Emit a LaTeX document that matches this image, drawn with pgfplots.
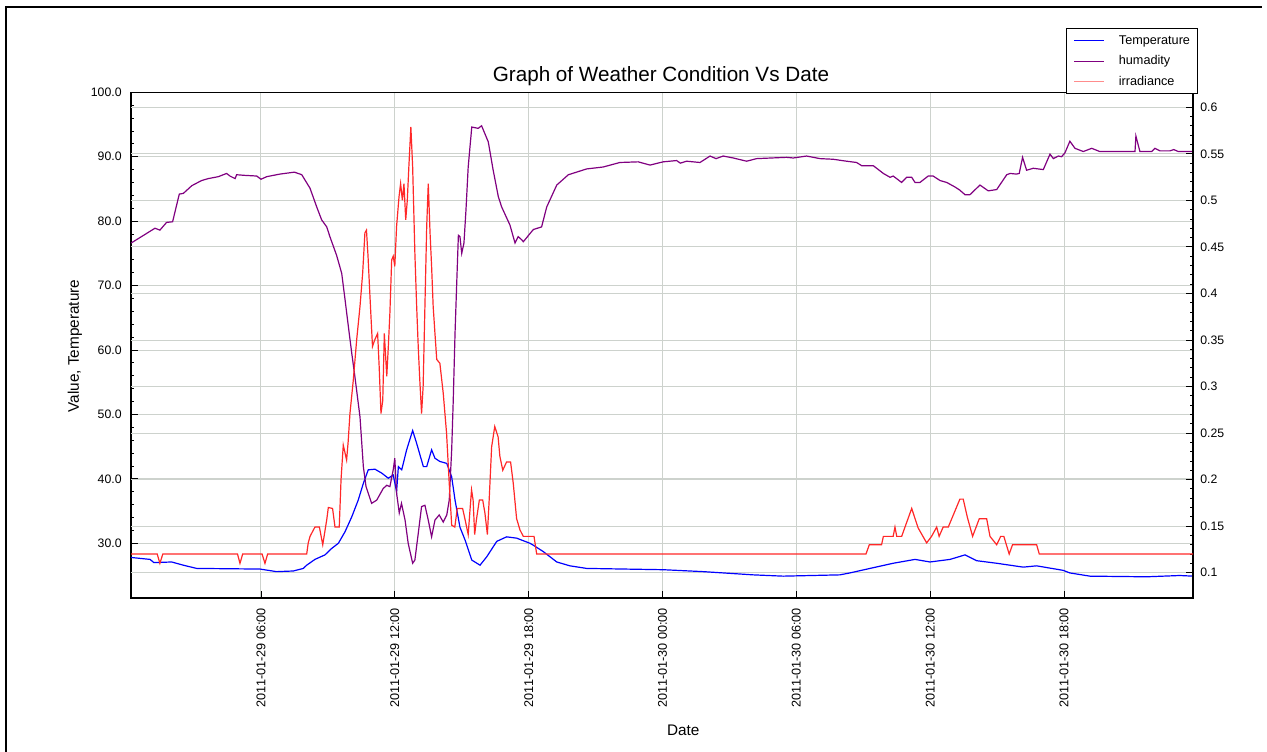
\documentclass[border=0pt]{standalone}
\usepackage{pgfplots}
\pgfplotsset{compat=1.18}
\usepackage{fontspec}
\setmainfont{Liberation Sans}
\definecolor{tempc}{RGB}{0,0,255}
\definecolor{humc}{RGB}{128,0,128}
\definecolor{irrc}{RGB}{255,40,40}
\definecolor{irrleg}{RGB}{255,140,140}
\definecolor{gridc}{RGB}{205,210,205}

\pgfplotstableread{
h v
0.18 27.8
1.03 27.5
1.2 27.0
2.0 27.1
2.52 26.6
3.12 26.1
5.96 26.0
6.7 25.6
7.45 25.7
7.9 26.1
8.05 26.6
8.42 27.5
8.87 28.2
9.17 29.2
9.47 30.0
9.77 31.8
10.07 34.1
10.36 36.7
10.59 39.3
10.81 41.4
11.11 41.5
11.41 40.9
11.71 40.1
11.93 40.6
12.08 38.0
12.16 41.9
12.31 41.4
12.53 44.5
12.8 47.5
12.98 45.5
13.28 41.9
13.43 41.9
13.65 44.5
13.8 43.2
14.02 42.7
14.33 42.4
14.55 40.3
14.7 36.7
14.92 32.5
15.15 30.5
15.45 27.4
15.82 26.6
16.12 27.9
16.57 30.3
17.01 31.0
17.46 30.8
17.61 30.6
18.06 30.0
18.21 29.7
18.66 28.7
19.26 27.1
19.85 26.5
20.6 26.1
24.03 25.9
25.83 25.6
28.07 25.1
29.41 24.9
31.95 25.1
32.4 25.4
33.3 26.1
34.34 26.9
35.32 27.5
35.99 27.1
36.89 27.5
37.56 28.2
38.08 27.3
38.98 26.9
40.17 26.3
40.77 26.5
41.96 25.8
42.26 25.4
43.16 24.9
45.7 24.8
47.19 25.0
47.78 24.9
}\temptable

\pgfplotstableread{
h v
0.18 76.6
0.88 78.1
1.25 78.9
1.47 78.6
1.77 79.8
2.04 79.9
2.34 84.2
2.52 84.3
2.9 85.5
3.34 86.3
3.64 86.6
4.09 86.9
4.46 87.4
4.61 87.0
4.84 86.6
4.91 87.2
5.28 87.1
5.81 87.0
6.0 86.5
6.26 86.9
6.85 87.3
7.5 87.6
7.83 87.2
8.2 85.1
8.5 82.2
8.72 80.2
8.95 79.1
9.09 77.6
9.39 74.7
9.62 71.9
9.77 67.8
9.92 63.6
10.07 59.5
10.21 55.9
10.44 49.6
10.59 41.9
10.71 38.8
10.96 36.2
11.19 36.7
11.48 38.5
11.64 39.0
11.78 38.8
11.93 41.4
12.0 43.2
12.08 37.8
12.2 34.7
12.3 36.2
12.46 33.6
12.6 30.0
12.8 26.9
12.9 27.4
13.05 31.5
13.2 35.7
13.35 35.9
13.5 33.6
13.65 31.0
13.8 33.6
13.99 34.4
14.17 33.3
14.33 34.4
14.44 36.7
14.55 44.5
14.62 52.2
14.7 62.6
14.77 69.8
14.85 77.8
14.92 77.6
15.0 75.0
15.1 76.6
15.19 81.7
15.29 88.4
15.45 94.6
15.74 94.4
15.89 94.8
16.19 92.3
16.41 87.9
16.64 83.8
16.79 82.2
17.16 79.4
17.39 76.6
17.53 77.6
17.69 77.1
17.76 76.8
18.21 78.7
18.58 79.1
18.81 82.2
19.26 85.6
19.78 87.2
20.6 88.1
21.34 88.4
22.09 89.1
22.91 89.2
23.44 88.7
24.03 89.2
24.63 89.4
24.8 89.0
25.08 89.3
25.68 89.1
26.13 90.1
26.4 89.7
26.72 90.1
27.17 89.8
27.77 89.3
28.22 89.7
29.56 89.9
29.86 89.8
30.46 90.1
31.06 89.7
31.65 89.6
32.25 89.3
32.7 89.1
32.93 88.6
33.45 88.6
33.9 87.4
34.2 86.8
34.34 87.0
34.72 86.0
34.94 86.8
35.17 86.8
35.32 86.0
35.54 86.0
35.91 87.0
36.13 87.0
36.44 86.3
36.74 86.0
37.11 85.3
37.33 84.8
37.56 84.1
37.78 84.1
38.23 85.6
38.6 84.7
38.98 84.9
39.43 87.2
39.58 87.4
39.87 87.3
39.99 87.4
40.14 89.9
40.32 87.9
40.62 88.2
41.07 88.0
41.37 90.4
41.52 89.7
41.74 90.1
41.89 90.0
42.04 90.6
42.26 92.4
42.49 91.3
42.86 90.8
43.24 91.3
43.6 90.8
45.18 90.8
45.22 93.2
45.4 90.8
45.93 90.8
46.07 91.3
46.3 90.9
46.74 90.9
46.92 91.1
47.12 90.8
47.78 90.8
}\humtable

\pgfplotstableread{
h r
0.18 0.12
1.35 0.12
1.47 0.11
1.6 0.12
4.95 0.12
5.06 0.11
5.18 0.12
6.05 0.12
6.18 0.11
6.3 0.12
8.05 0.12
8.12 0.132
8.2 0.139
8.42 0.149
8.62 0.149
8.77 0.13
8.95 0.157
9.02 0.170
9.21 0.169
9.32 0.149
9.51 0.149
9.59 0.2
9.69 0.237
9.84 0.221
9.91 0.241
9.99 0.271
10.14 0.307
10.29 0.35
10.44 0.386
10.56 0.422
10.66 0.465
10.73 0.468
10.8 0.44
10.88 0.4
11.0 0.343
11.1 0.35
11.23 0.357
11.3 0.321
11.38 0.271
11.46 0.285
11.53 0.357
11.64 0.311
11.71 0.343
11.78 0.379
11.86 0.436
11.93 0.44
12.0 0.429
12.08 0.472
12.19 0.504
12.26 0.518
12.34 0.5
12.41 0.518
12.49 0.479
12.56 0.5
12.63 0.536
12.72 0.579
12.8 0.536
12.9 0.443
12.98 0.386
13.05 0.343
13.12 0.307
13.2 0.271
13.27 0.3
13.35 0.386
13.43 0.472
13.5 0.518
13.58 0.465
13.65 0.429
13.72 0.386
13.8 0.357
13.88 0.329
14.02 0.325
14.17 0.293
14.32 0.25
14.44 0.196
14.55 0.151
14.69 0.149
14.8 0.169
15.04 0.169
15.15 0.157
15.29 0.141
15.37 0.167
15.44 0.189
15.51 0.178
15.58 0.141
15.66 0.157
15.79 0.178
15.94 0.178
16.04 0.164
16.15 0.141
16.23 0.178
16.34 0.235
16.48 0.257
16.63 0.246
16.71 0.225
16.84 0.21
17.01 0.219
17.19 0.219
17.31 0.196
17.46 0.158
17.61 0.146
17.76 0.139
18.24 0.139
18.36 0.12
33.12 0.12
33.27 0.13
33.82 0.13
33.9 0.139
34.34 0.139
34.42 0.149
34.5 0.139
34.72 0.139
35.17 0.169
35.46 0.148
35.84 0.132
36.06 0.139
36.29 0.149
36.4 0.139
36.58 0.149
36.81 0.149
37.33 0.179
37.48 0.179
37.66 0.16
37.9 0.139
38.2 0.158
38.53 0.158
38.68 0.139
38.98 0.13
39.16 0.139
39.3 0.139
39.54 0.12
39.69 0.13
40.77 0.13
40.89 0.12
47.78 0.12
}\irrtable

\begin{document}
\begin{tikzpicture}
\path[use as bounding box] (0,0) rectangle (950.25pt,564pt);
\draw[line width=1.5pt] (4.5pt,0pt) -- (4.5pt,558.75pt) -- (946.5pt,558.75pt);

\begin{axis}[
  at={(98.25pt,115.5pt)}, anchor=south west,
  scale only axis, width=796.5pt, height=379.3pt,
  xmin=0.175, xmax=47.78, ymin=21.51, ymax=100,
  xtick={6,12,18,24,30,36,42},
  xticklabels={2011-01-29 06:00,2011-01-29 12:00,2011-01-29 18:00,2011-01-30 00:00,2011-01-30 06:00,2011-01-30 12:00,2011-01-30 18:00},
  xticklabel style={rotate=90, anchor=east, font=\fontsize{9.5}{10}\selectfont},
  xticklabel shift=4pt,
  ytick={30,40,50,60,70,80,90,100},
  minor y tick num=4,
  ytick pos=left, xtick pos=bottom,
  yticklabel style={font=\fontsize{9.2}{10}\selectfont, /pgf/number format/.cd, fixed, fixed zerofill, precision=1},
  yticklabel shift=3.5pt,
  /pgf/number format/assume math mode=true,
  extra y ticks={25.43,32.66,39.88,47.10,54.33,61.55,68.77,75.99,83.22,90.44,97.67},
  extra y tick labels={},
  extra y tick style={grid=major, major tick length=0pt},
  xmajorgrids, ymajorgrids,
  major grid style={gridc, line width=0.7pt},
  tick align=inside, major tick length=5pt, minor tick length=2.5pt,
  every tick/.style={black, line width=0.6pt},
  axis line style={line width=0.8pt},
  title={Graph of Weather Condition Vs Date},
  title style={font=\fontsize{15.5}{18}\selectfont, at={(axis description cs:0.499,1.016)}, anchor=center, yshift=0pt},
  xlabel={Date},
  xlabel style={font=\fontsize{11.5}{13}\selectfont, at={(axis description cs:0.52,-0.261)}, anchor=center},
  ylabel={Value, Temperature},
  ylabel style={font=\fontsize{11.5}{13}\selectfont, at={(axis description cs:-0.0527,0.498)}, anchor=center},
]
\addplot[tempc, line width=0.9pt] table[x=h, y=v] {\temptable};
\addplot[humc, line width=0.9pt] table[x=h, y=v] {\humtable};
\end{axis}

\begin{axis}[
  at={(98.25pt,115.5pt)}, anchor=south west,
  scale only axis, width=796.5pt, height=379.3pt,
  xmin=0.175, xmax=47.78, ymin=0.0728, ymax=0.6161,
  axis y line*=right, axis x line=none,
  xtick=\empty,
  ytick={0.1,0.15,0.2,0.25,0.3,0.35,0.4,0.45,0.5,0.55,0.6},
  minor y tick num=4,
  yticklabel style={font=\fontsize{9.2}{10}\selectfont},
  yticklabel shift=2pt,
  /pgf/number format/assume math mode=true,
  tick align=inside, major tick length=5pt, minor tick length=2.5pt,
  every tick/.style={black, line width=0.6pt},
  axis line style={line width=0.8pt},
  legend image code/.code={\path (0pt,0pt) -- (3pt,0pt); \draw[#1] (3pt,0pt) -- (22.5pt,0pt);},
  legend cell align=left,
  legend style={at={(axis description cs:0.880,1.127)}, anchor=north west,
    draw=black, line width=1pt, fill=white,
    font=\fontsize{9.5}{10}\selectfont,
    inner xsep=5.5pt, inner ysep=4.5pt, row sep=6.4pt,
    nodes={inner sep=0pt, text height=7pt, text depth=2pt},
    /tikz/every odd column/.append style={column sep=10.5pt}},
]
\addlegendimage{tempc, line width=1pt}
\addlegendentry{Temperature}
\addlegendimage{humc, line width=1pt}
\addlegendentry{humadity}
\addlegendimage{irrleg, line width=1pt}
\addlegendentry{irradiance}
\addplot[irrc, line width=0.9pt, forget plot] table[x=h, y=r] {\irrtable};
\end{axis}
\end{tikzpicture}
\end{document}
